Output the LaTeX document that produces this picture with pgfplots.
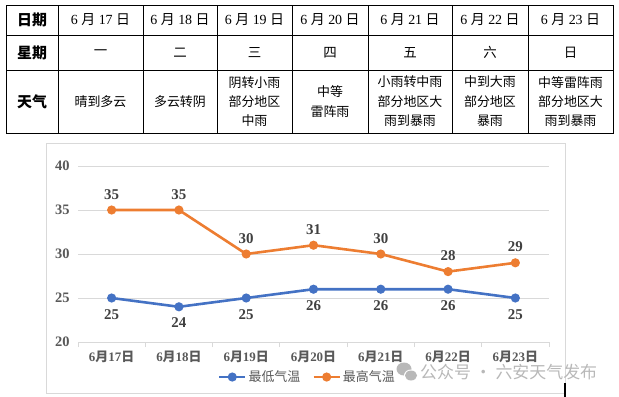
\documentclass[border=0pt]{standalone}
\usepackage{fontspec}
\setmainfont{Liberation Serif}
\newfontfamily\cjk{Noto Sans CJK SC}
\usepackage{pgfplots}
\pgfplotsset{compat=1.18}
\definecolor{cblue}{HTML}{4472C4}
\definecolor{corange}{HTML}{ED7D31}
\definecolor{cgrid}{HTML}{D9D9D9}
\definecolor{ctext}{HTML}{595959}
\definecolor{clab}{HTML}{404040}
\definecolor{cwm}{HTML}{B8B8B8}
\newcommand{\dt}[1]{6 {\cjk 月} #1 {\cjk 日}}
\newcommand{\cd}[1]{6{\cjk 月}#1{\cjk 日}}
\begin{document}
\begin{tikzpicture}
\path[use as bounding box] (0,0) rectangle (619bp,-397bp);
\begin{scope}[x=1bp,y=-1bp]
  % table
  \draw[line width=1bp] (6,5) rectangle (613,133);
  \foreach \x in {58,143,217,292,368,452,528} \draw[line width=1bp] (\x,5)--(\x,133);
  \foreach \y in {35,70} \draw[line width=1bp] (6,\y)--(613,\y);
  \begin{scope}[every node/.style={font=\cjk\bfseries\fontsize{15}{17}\selectfont}]
    \node at (32,20) {日期};
    \node at (32,52.5) {星期};
    \node at (32,101.5) {天气};
  \end{scope}
  \begin{scope}[every node/.style={font=\fontsize{14}{15}\selectfont}]
    \node at (100.5,20) {\dt{17}};
    \node at (180,20) {\dt{18}};
    \node at (254.5,20) {\dt{19}};
    \node at (330,20) {\dt{20}};
    \node at (410,20) {\dt{21}};
    \node at (490,20) {\dt{22}};
    \node at (570.5,20) {\dt{23}};
  \end{scope}
  \begin{scope}[every node/.style={font=\cjk\fontsize{13.5}{15}\selectfont}]
    \node at (100.5,52.5) {一};
    \node at (180,52.5) {二};
    \node at (254.5,52.5) {三};
    \node at (330,52.5) {四};
    \node at (410,52.5) {五};
    \node at (490,52.5) {六};
    \node at (570.5,52.5) {日};
  \end{scope}
  \begin{scope}[every node/.style={font=\cjk\fontsize{13}{19.5}\selectfont, align=center}]
    \node at (100.5,101.5) {晴到多云};
    \node at (180,101.5) {多云转阴};
    \node at (254.5,101.5) {阴转小雨\\部分地区\\中雨};
    \node at (330,101.5) {中等\\雷阵雨};
    \node at (410,101.5) {小雨转中雨\\部分地区大\\雨到暴雨};
    \node at (490,101.5) {中到大雨\\部分地区\\暴雨};
    \node at (570.5,101.5) {中等雷阵雨\\部分地区大\\雨到暴雨};
  \end{scope}
  % chart frame
  \draw[cgrid, line width=1bp] (46,143) rectangle (565,393);
  % watermark
  \fill[cwm] (404,369) ellipse (7.5 and 6.5);
  \fill[white] (411,375.5) ellipse (7 and 6);
  \fill[cwm] (411,375.5) ellipse (6 and 5);
  \node[cwm, font=\cjk\fontsize{17}{18}\selectfont, anchor=west, inner sep=0pt] at (420,372) {公众号 · 六安天气发布};
  \draw[line width=1.5bp] (565,383)--(565,397);
\end{scope}
\begin{axis}[
  at={(78bp,-342bp)}, anchor=south west,
  scale only axis, width=471bp, height=176bp,
  clip=false,
  xmin=-0.5, xmax=6.5, ymin=20, ymax=40,
  xtick={0,...,6},
  xticklabels={\cd{17},\cd{18},\cd{19},\cd{20},\cd{21},\cd{22},\cd{23}},
  minor xtick={-0.5,0.5,...,6.5},
  ytick={20,25,30,35,40},
  ymajorgrids, grid style={cgrid, line width=0.9bp},
  axis x line*=bottom, axis y line*=left,
  y axis line style={draw=none},
  x axis line style={cgrid, line width=0.9bp},
  major tick length=0pt, minor tick length=5bp, tick align=outside,
  minor tick style={cgrid, line width=0.9bp},
  /pgf/number format/assume math mode=true,
  xticklabel style={font=\bfseries\fontsize{13}{14}\selectfont, text=ctext, yshift=-5bp},
  yticklabel style={font=\bfseries\fontsize{14.5}{15}\selectfont, text=ctext, xshift=-5bp},
  legend style={at={(0.487,-0.199)}, anchor=center, draw=none, fill=none,
    font=\cjk\fontsize{13}{14}\selectfont, text=ctext,
    /tikz/every even column/.append style={column sep=10bp}},
  legend columns=2,
  legend image code/.code={\draw[mark repeat=2,mark phase=2,#1] plot coordinates {(0bp,0bp) (13bp,0bp) (26bp,0bp)};},
  every node near coord/.append style={font=\bfseries\fontsize{15}{16}\selectfont, text=clab, inner sep=0pt},
]
\addplot[cblue, line width=2.6bp, mark=*, mark size=3.2bp, mark options={solid},
  nodes near coords, every node near coord/.append style={anchor=north, yshift=-10bp}]
  coordinates {(0,25)(1,24)(2,25)(3,26)(4,26)(5,26)(6,25)};
\addlegendentry{最低气温}
\addplot[corange, line width=2.6bp, mark=*, mark size=3.2bp, mark options={solid},
  nodes near coords, every node near coord/.append style={anchor=south, yshift=9.5bp}]
  coordinates {(0,35)(1,35)(2,30)(3,31)(4,30)(5,28)(6,29)};
\addlegendentry{最高气温}
\end{axis}
\end{tikzpicture}
\end{document}
